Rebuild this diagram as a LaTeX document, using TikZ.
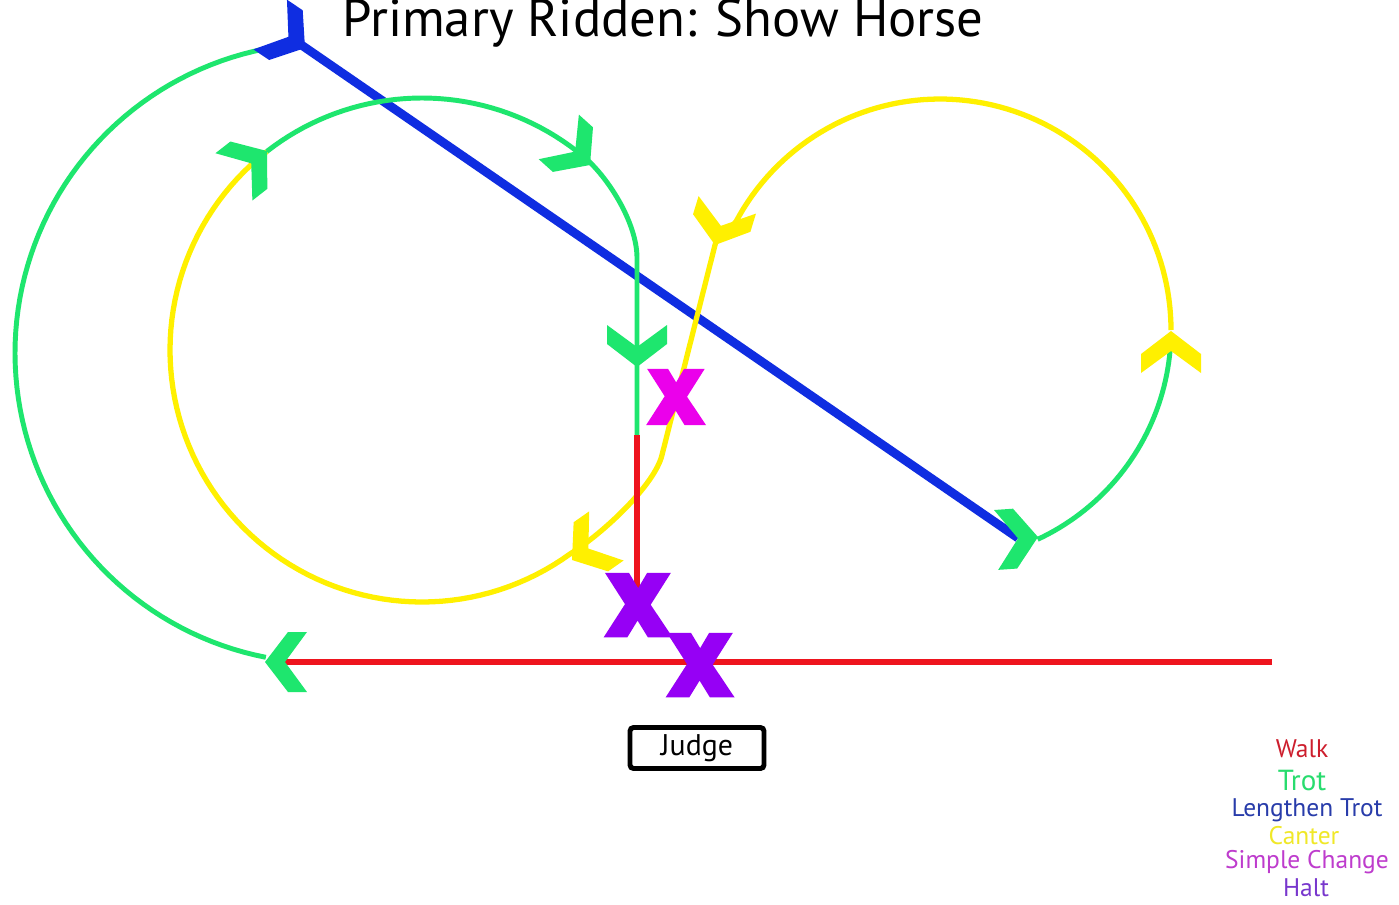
\documentclass[tikz,border=0pt]{standalone}
\usepackage{fontspec}
\setmainfont{PT Sans}
\newfontfamily\xmarkfont{Open Sans}[FakeBold=12]

\definecolor{walkred}{RGB}{238,20,30}
\definecolor{trotgreen}{RGB}{30,230,110}
\definecolor{lengthblue}{RGB}{15,45,225}
\definecolor{canteryellow}{RGB}{255,240,0}
\definecolor{changemag}{RGB}{235,0,235}
\definecolor{haltpurple}{RGB}{150,0,245}
\definecolor{walklbl}{RGB}{205,30,45}
\definecolor{trotlbl}{RGB}{40,220,110}
\definecolor{lengthlbl}{RGB}{40,60,170}
\definecolor{canterlbl}{RGB}{240,232,40}
\definecolor{changelbl}{RGB}{190,60,205}
\definecolor{haltlbl}{RGB}{120,55,205}

% chevron: tip x, tip y, heading (screen degrees), colour
\newcommand{\chev}[4]{%
  \fill[fill=#4,shift={(#1,#2)},rotate={0-(#3)}]
    (0,0) -- (-23,30) -- (-42,30) -- (-20,0) -- (-42,-30) -- (-23,-30) -- cycle;}

\begin{document}
\begin{tikzpicture}[x=0.02cm,y=-0.02cm,
    walk/.style={draw=walkred,line width=3.4pt},
    trot/.style={draw=trotgreen,line width=2.8pt},
    lengthen/.style={draw=lengthblue,line width=5pt},
    canter/.style={draw=canteryellow,line width=3pt},
    xmark/.style={inner sep=0pt,font=\xmarkfont\bfseries\fontsize{44}{44}\selectfont},
    legend/.style={anchor=base,font=\fontsize{14.5}{14.5}\selectfont}]
  \path[fill=white,use as bounding box] (0,0) rectangle (1399,904);

  % lengthen trot across the diagonal
  \draw[lengthen] (300,44) -- (1018,538);

  % outer trot circle
  \draw[trot] plot[domain=101:265,samples=80]
    ({325+310*cos(\x)},{353+310*sin(\x)});

  % canter: right circle, change of rein, left circle
  \draw[canter] plot[domain=0:-152,samples=80]
      ({940+231*cos(\x)},{330+231*sin(\x)})
    .. controls (730,230) and (719,229) .. (715,245)
    -- (662,455)
    .. controls (655,484) and (605,532) .. (570,554)
    -- plot[domain=54:232,samples=80]
      ({422+252*cos(\x)},{350+252*sin(\x)});

  % trot: top of left circle and down the centre line
  \draw[trot] plot[domain=232:310,samples=40]
      ({422+252*cos(\x)},{350+252*sin(\x)})
    .. controls (607,176) and (637,222) .. (637,258) -- (637,435);

  % trot: bottom of right circle
  \draw[trot] plot[domain=65:5,samples=40]
    ({940+231*cos(\x)},{330+231*sin(\x)});

  % walk
  \draw[walk] (637,435) -- (637,600);
  \draw[walk] (285,662) -- (1272,662);

  % direction marks
  \foreach \px/\py/\ang/\col in {305/48/34/lengthblue, 265/662/180/trotgreen,
      267/151/-38/trotgreen, 590/165/42/trotgreen, 637/367/90/trotgreen,
      715/245/107/canteryellow, 572/560/145/canteryellow,
      1038/537/-4/trotgreen, 1171/331/-90/canteryellow}
    \chev{\px}{\py}{\ang}{\col};

  % changes and halts
  \node[xmark,text=changemag,scale=0.87] (change) at (676,397) {X};
  \node[xmark,text=haltpurple] (halt1) at (638,605) {X};
  \node[xmark,text=haltpurple] (halt2) at (700,665) {X};

  \node[draw,line width=2.8pt,rounded corners=2pt,minimum width=2.68cm,
        minimum height=0.82cm,inner sep=0pt,font=\fontsize{17}{17}\selectfont]
        (judge) at (697,748) {Judge};

  \node[anchor=base,font=\fontsize{30}{30}\selectfont] (title) at (663,36)
    {Primary Ridden: Show Horse};

  % key
  \node[legend,text=walklbl] (walk) at (1302,757) {Walk};
  \node[legend,text=trotlbl,font=\fontsize{16.5}{16.5}\selectfont] (trot) at (1302,790) {Trot};
  \node[legend,text=lengthlbl] (lengthtrot) at (1307,816) {Lengthen Trot};
  \node[legend,text=canterlbl] (canter) at (1304,844) {Canter};
  \node[legend,text=changelbl] (simplechange) at (1307,868) {Simple Change};
  \node[legend,text=haltlbl] (halt) at (1306,896) {Halt};
\end{tikzpicture}
\end{document}
